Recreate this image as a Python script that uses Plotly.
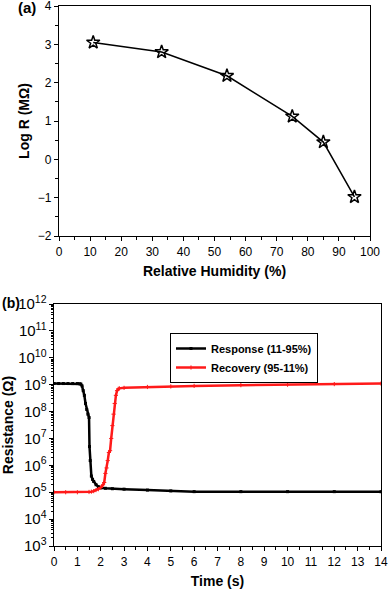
import plotly.graph_objects as go

# Panel (a)
rh = [11, 33, 54, 75, 85, 95]
log_r = [3.05, 2.80, 2.18, 1.12, 0.45, -0.98]

# Panel (b)
resp_t = [0, 0.2, 0.4, 0.6, 0.8, 1.0, 1.1, 1.15, 1.2, 1.25, 1.3, 1.35, 1.4, 1.45, 1.5, 1.52, 1.55, 1.6, 1.65, 1.7, 1.8, 1.9, 2.0, 2.2, 2.5, 3.0, 4.0, 5.0, 6.0, 8.0, 10.0, 12.0, 14.0]
resp_r = [1.1e9, 1.1e9, 1.1e9, 1.1e9, 1.1e9, 1.1e9, 1.08e9, 1.05e9, 9e8, 6e8, 4e8, 2e8, 1.2e8, 8e7, 6e7, 5e6, 1.5e6, 4e5, 3e5, 2.5e5, 1.9e5, 1.6e5, 1.45e5, 1.4e5, 1.35e5, 1.3e5, 1.2e5, 1.12e5, 1.05e5, 1.05e5, 1.05e5, 1.05e5, 1.05e5]
rec_t = [0, 0.5, 1.0, 1.5, 1.6, 1.7, 1.8, 1.9, 2.0, 2.1, 2.15, 2.2, 2.25, 2.3, 2.35, 2.4, 2.45, 2.5, 2.55, 2.6, 2.65, 2.7, 2.75, 2.8, 3.0, 4.0, 5.0, 6.0, 8.0, 10.0, 12.0, 14.0]
rec_r = [1.0e5, 1.0e5, 1.0e5, 1.02e5, 1.05e5, 1.1e5, 1.2e5, 1.3e5, 1.5e5, 1.9e5, 2.3e5, 5e5, 8e5, 1.5e6, 3e6, 3.5e6, 1e7, 3e7, 8e7, 2e8, 4e8, 6e8, 7e8, 7.3e8, 7.6e8, 8.2e8, 8.6e8, 9e8, 9.6e8, 1.0e9, 1.05e9, 1.1e9]

# minor tick positions for the log axis (2..9 x 10^k)
log_minor = [m * 10 ** k for k in range(3, 12) for m in range(2, 10)]

FONT = "Liberation Sans, Arial, sans-serif"

fig = go.Figure()
fig.add_trace(go.Scatter(x=rh, y=log_r, mode="lines+markers",
                         line=dict(color="black", width=1.5),
                         marker=dict(symbol="star-open", size=10, color="black", line=dict(width=1.5)),
                         xaxis="x", yaxis="y", showlegend=False))
fig.add_trace(go.Scatter(x=resp_t, y=resp_r, mode="lines+markers", name="Response (11-95%)",
                         line=dict(color="black", width=2.5),
                         marker=dict(symbol="square", size=3, color="black"),
                         xaxis="x2", yaxis="y2"))
fig.add_trace(go.Scatter(x=rec_t, y=rec_r, mode="lines+markers", name="Recovery (95-11%)",
                         line=dict(color="#ff1a1a", width=2.5),
                         marker=dict(symbol="cross-thin", size=3, color="#ff1a1a", line=dict(width=1, color="#ff1a1a")),
                         xaxis="x2", yaxis="y2"))
# invisible trace to carry the minor-tick overlay axis
fig.add_trace(go.Scatter(x=[None], y=[None], xaxis="x2", yaxis="y3", showlegend=False,
                         hoverinfo="skip"))

W, H = 390, 592
def xd(a, b): return [a / W, b / W]
def yd(top, bot): return [1 - bot / H, 1 - top / H]

tickfont = dict(family=FONT, size=12, color="black")
titlefont = dict(family=FONT, size=14, color="black", weight="bold")
common = dict(showline=True, linecolor="black", linewidth=1.2, mirror=True, ticks="outside",
              ticklen=4, tickwidth=1, tickcolor="black", showgrid=False, zeroline=False,
              tickfont=tickfont, automargin=False, ticklabeloverflow="allow")

fig.update_layout(
    width=W, height=H, margin=dict(l=0, r=0, t=0, b=0, autoexpand=False),
    plot_bgcolor="white", paper_bgcolor="white",
    xaxis=dict(domain=xd(59, 370), anchor="y", range=[0, 100], dtick=10,
               minor=dict(ticks="outside", ticklen=2.5, dtick=5, tickcolor="black"),
               title=dict(text="Relative Humidity (%)", font=titlefont, standoff=8), **common),
    yaxis=dict(domain=yd(6, 236), anchor="x", range=[-2, 4], dtick=1,
               minor=dict(ticks="outside", ticklen=2.5, dtick=0.5, tickcolor="black"),
               title=dict(text="Log R (MΩ)", font=titlefont, standoff=4), **common),
    xaxis2=dict(domain=xd(54, 381), anchor="y2", range=[0, 14], dtick=1,
                minor=dict(ticks="outside", ticklen=2.5, dtick=0.5, tickcolor="black"),
                title=dict(text="Time (s)", font=titlefont, standoff=8), **common),
    yaxis2=dict(domain=yd(304, 546), anchor="x2", type="log", range=[3, 12], dtick=1,
                exponentformat="power",
                title=dict(text="Resistance (Ω)", font=titlefont, standoff=6), **common),
    yaxis3=dict(overlaying="y2", anchor="x2", side="left", type="log", range=[3, 12],
                tickmode="array", tickvals=log_minor, showticklabels=False,
                ticks="outside", ticklen=2.5, tickwidth=1, tickcolor="black",
                showgrid=False, zeroline=False, showline=False, automargin=False),
    legend=dict(x=170 / W, y=1 - 333 / H, xanchor="left", yanchor="top",
                bordercolor="black", borderwidth=1, bgcolor="white",
                font=dict(family=FONT, size=11, color="black", weight="bold"),
                tracegroupgap=0, itemwidth=30),
    annotations=[
        dict(text="<b>(a)</b>", x=16 / W, y=1 - 8 / H, xref="paper", yref="paper",
             xanchor="left", yanchor="middle", showarrow=False,
             font=dict(family=FONT, size=15, color="black")),
        dict(text="<b>(b)</b>", x=0, y=1 - 303 / H, xref="paper", yref="paper",
             xanchor="left", yanchor="middle", showarrow=False,
             font=dict(family=FONT, size=14, color="black")),
    ],
)

fig.write_html("out.html", config={"displayModeBar": False},
               post_script="document.body.style.margin='0';document.body.style.overflow='hidden';")
